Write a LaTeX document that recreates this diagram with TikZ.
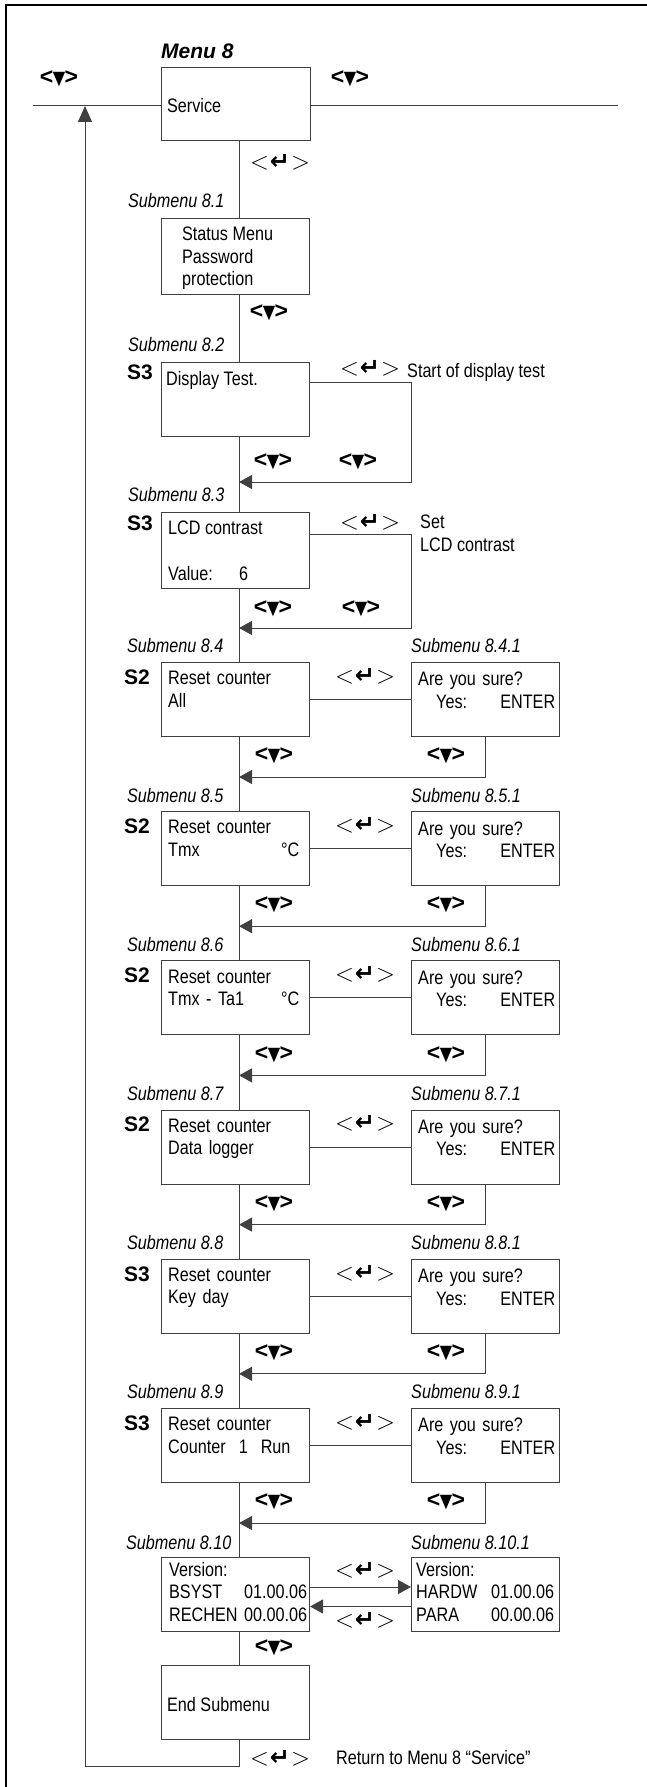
\documentclass[tikz,border=0pt]{standalone}
\usepackage{fontspec}
\usepackage{graphicx}
\setmainfont{Liberation Sans}[FakeStretch=0.83]
\newfontfamily\keyfont{Liberation Sans}
\newfontfamily\dvfont{DejaVu Sans}
\usepackage{tikz}
\usetikzlibrary{arrows.meta}

\newcommand\kdown{{\keyfont\bfseries\fontsize{23}{23}\selectfont <\kern-0.5pt{\dvfont\fontsize{19}{19}\selectfont\scalebox{0.85}[1]{▼}}\kern-0.5pt>}}
\newcommand\kenter{{\fontsize{29}{29}\selectfont$<$\kern1pt{\dvfont\bfseries\fontsize{24}{24}\selectfont ↵}\kern1pt$>$}}
\newcommand\verline[2]{\makebox[138pt][s]{#1\kern3pt\hfill #2}}

\begin{document}
\begin{tikzpicture}
  [x=1pt, y=-1pt,
    box/.style={rectangle, draw=black!75, line width=1pt, minimum width=148, minimum height=74, anchor=north west, inner sep=0},
    txt/.style={anchor=north west, inner sep=0, align=left, font=\fontsize{19.5}{22.5}\selectfont},
    sub/.style={anchor=west, inner sep=0, font=\itshape\fontsize{19.5}{22}\selectfont},
    head/.style={anchor=west, inner sep=0, font=\keyfont\bfseries\itshape\fontsize{21}{21}\selectfont},
    slev/.style={inner sep=0, font=\keyfont\bfseries\fontsize{21}{21}\selectfont},
    key/.style={inner sep=0},
    wire/.style={draw=black!75, line width=1pt},
    >={Triangle[length=13pt,width=14pt]}
  ]
  \useasboundingbox (0,0) rectangle (647,1787);
  \coordinate (trunk) at (239,0);
  \coordinate (side) at (485,0);

  % frame
  \draw[line width=2.6pt] (6,1787) -- (6,5) -- (647,5);

  % menu 8
  \path (161,67) node[box, minimum width=149, minimum height=73] (svc) {}
      +(0,-16) node[head] {Menu 8}
      +(6,39) node[txt, anchor=west] {Service};
  \node[key] (kl) at (59,79) {\kdown};
  \node[key] (kr) at (350,79) {\kdown};
  \coordinate (mleft) at (33,106);
  \coordinate (mright) at (618,106);
  \draw[wire] (mleft) -- (mleft -| svc.west);
  \draw[wire] (svc.east |- mright) -- (mright);

  % submenu 8.1
  \path (161,218) node[box, minimum height=76] (s1) {}
      +(-33,-17) node[sub] {Submenu 8.1}
      +(21,9) node[txt] {Status Menu\\Password\\protection};
  \node[key] at (280,162) {\kenter};
  \node[key] at (269,313) {\kdown};

  % submenu 8.2
  \path (161,362) node[box, minimum height=74] (s2) {}
      +(-33,-17) node[sub] {Submenu 8.2}
      +(-21,10) node[slev] {S3}
      +(5,9) node[txt] {Display Test.};
  \node[key] at (370,368) {\kenter};
  \node[txt, anchor=west] at (407,372) {Start of display test};
  \coordinate (t2) at (411,382);
  \coordinate (j2) at (239,482);
  \draw[wire,->] (s2.east |- t2) -- (t2) |- (j2);
  \node[key] at (273,462) {\kdown};
  \node[key] at (358,462) {\kdown};

  % submenu 8.3
  \path (161,512) node[box, minimum height=76] (s3) {}
      +(-33,-17) node[sub] {Submenu 8.3}
      +(-21,11) node[slev] {S3}
      +(7,9) node[txt] {LCD contrast\\[23.5pt]\makebox[71pt][l]{Value:}6};
  \node[key] at (370,522) {\kenter};
  \node[txt] at (420,515) {Set\\LCD contrast};
  \coordinate (t3) at (411,534);
  \coordinate (j3) at (239,628);
  \draw[wire,->] (s3.east |- t3) -- (t3) |- (j3);
  \node[key] at (273,609) {\kdown};
  \node[key] at (361,609) {\kdown};

  % submenus 8.4 - 8.9
  \foreach \n/\lv/\tx [evaluate=\n as \y using {662+(\n-4)*149.2}] in
      {4/S2/All, 5/S2/{Tmx\hfill °C}, 6/S2/{Tmx - Ta1\hfill °C},
       7/S2/{Data logger}, 8/S3/{Key day}, 9/S3/{Counter\ \ 1\ \ Run}} {
    \path (161,\y) node[box] (s\n) {}
        +(-34,-16) node[sub] {Submenu 8.\n}
        +(-24,15) node[slev] {\lv}
        +(7,9) node[txt, text width=131] {Reset counter\\\tx};
    \path (411,\y) node[box] (r\n) {}
        +(0,-16) node[sub] {Submenu 8.\n.1}
        +(7,10) node[txt, text width=137] {Are you sure?\\\hspace*{18pt}Yes:\hfill ENTER};
    \node[key] at (365,\y+14) {\kenter};
    \coordinate (j\n) at (239,\y+115);
    \draw[wire] (s\n) -- (r\n);
    \draw[wire,->] (r\n.south -| side) |- (j\n);
    \node[key] at (274,\y+94) {\kdown};
    \node[key] at (446,\y+94) {\kdown};
  }

  % submenu 8.10
  \path (161,1557) node[box] (s10) {}
      +(-35,-14) node[sub] {Submenu 8.10}
      +(8,5) node[txt] {Version:\\\verline{BSYST}{01.00.06}\\\verline{RECHEN}{00.00.06}};
  \path (411,1557) node[box] (r10) {}
      +(0,-14) node[sub] {Submenu 8.10.1}
      +(5,5) node[txt] {Version:\\\verline{HARDW}{01.00.06}\\\verline{PARA}{00.00.06}};
  \draw[wire,->] ([yshift=7.5pt]s10.east) -- ([yshift=7.5pt]r10.west);
  \draw[wire,->] ([yshift=-12pt]r10.west) -- ([yshift=-12pt]s10.east);
  \node[key] at (365,1570) {\kenter};
  \node[key] at (365,1620) {\kenter};
  \node[key] at (274,1648) {\kdown};

  % end submenu
  \path (161,1665) node[box] (fin) {}
      +(6,40) node[txt, anchor=west] {End Submenu};

  % trunk
  \foreach \a/\b in {svc/s1, s1/s2, s2/s3, s3/s4, s4/s5, s5/s6, s6/s7, s7/s8, s8/s9, s9/s10, s10/fin}
    \draw[wire] (\a.south -| trunk) -- (\b.north -| trunk);

  % back to menu 8
  \coordinate (back) at (85,1766);
  \draw[wire,-{Triangle[length=16pt,width=14pt]}] (fin.south -| trunk) |- (back) -- (back |- mleft);
  \node[key] at (280,1758) {\kenter};
  \node[txt, anchor=west] at (336,1758) {Return to Menu 8 “Service”};
\end{tikzpicture}
\end{document}
